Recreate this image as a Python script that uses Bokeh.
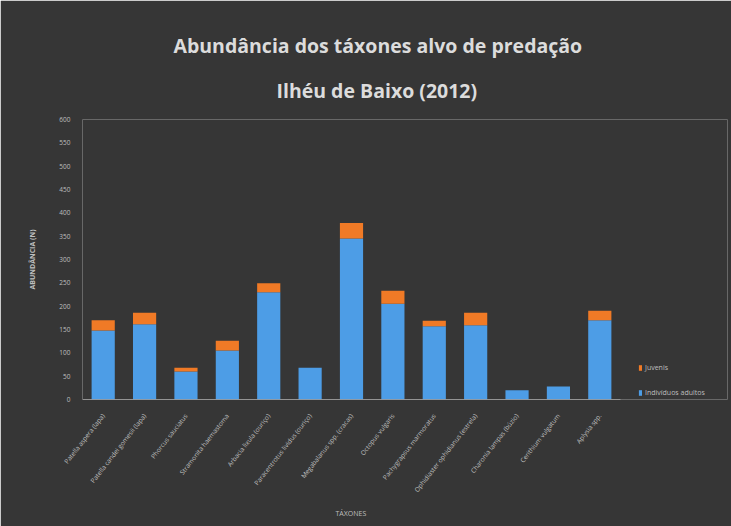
import math
from bokeh.plotting import figure
from bokeh.models import (ColumnDataSource, Range1d, Legend, LegendItem,
                          Title, FixedTicker)
from bokeh.embed import file_html
from bokeh.resources import INLINE

# ---------------- data ----------------
taxa = [
    "Patella aspera (lapa)",
    "Patella candei gomesii (lapa)",
    "Phorcus sauciatus",
    "Stramonita haemastoma",
    "Arbacia lixula (ouriço)",
    "Paracentrotus lividus (ouriço)",
    "Megabalanus spp. (cracas)",
    "Octopus vulgaris",
    "Pachygrapsus marmoratus",
    "Ophidiaster ophidianus (estrela)",
    "Charonia lampas (búzio)",
    "Cerithium vulgatum",
    "Aplysia spp.",
]
adultos = [148, 161, 60, 105, 230, 68, 345, 205, 157, 159, 20, 28, 170]
juvenis = [22, 25, 8, 21, 19, 0, 33, 28, 12, 27, 0, 0, 20]
y_ticks = [0, 50, 100, 150, 200, 250, 300, 350, 400, 450, 500, 550, 600]

series_names = ["Indivíduos adultos", "Juvenis"]
title_lines = ["Abundância dos táxones alvo de predação", "Ilhéu de Baixo (2012)"]
x_title = "TÁXONES"
y_title = "ABUNDÂNCIA (N)"

BG = "#363636"
BLUE = "#4d9de6"
ORANGE = "#f07a26"
TXT = "#bfbfbf"

# layout (pixels)
W, H = 731, 526
LEFT, RIGHT, TOP, BOTTOM = 82, 4, 119, 127
BAR_AREA_W = 538            # width used by the category slots

n = len(taxa)
xs = list(range(n))
frame_w = W - LEFT - RIGHT
slot = BAR_AREA_W / n
x_end = -0.5 + frame_w / slot

source = ColumnDataSource(dict(x=xs, taxa=taxa, adultos=adultos, juvenis=juvenis))

p = figure(
    x_range=Range1d(-0.5, x_end),
    y_range=Range1d(y_ticks[0], y_ticks[-1]),
    width=W, height=H,
    output_backend="svg", toolbar_location=None,
    min_border_left=LEFT, min_border_right=RIGHT, min_border_top=TOP, min_border_bottom=BOTTOM,
    background_fill_color=BG, border_fill_color=BG, outline_line_color=None,
)

r_ad, r_ju = p.vbar_stack(["adultos", "juvenis"], x="x", width=0.56, source=source,
                          color=[BLUE, ORANGE], line_color=None)

# category axis baseline spanning only the category slots
p.segment(x0=[-0.5], x1=[n - 0.5], y0=[y_ticks[0]], y1=[y_ticks[0]],
          line_color="#bfbfbf", line_width=1)

# titles (left-aligned with offsets so they are centred over the bar area)
t2 = Title(text=title_lines[1], align="left", offset=194, text_font="Open Sans",
           text_font_size="19.5px", text_font_style="bold", text_color="#dcdcdc",
           standoff=32)
t1 = Title(text=title_lines[0], align="left", offset=91, text_font="Open Sans",
           text_font_size="19.5px", text_font_style="bold", text_color="#dcdcdc",
           standoff=0)
p.title = None
p.add_layout(t2, "above")
p.add_layout(t1, "above")

# axes
p.xgrid.grid_line_color = None
p.ygrid.grid_line_color = None

xa = p.xaxis[0]
xa.ticker = FixedTicker(ticks=xs)
xa.major_label_overrides = {i: t for i, t in zip(xs, taxa)}
xa.axis_line_color = None
xa.major_tick_line_color = None
xa.minor_tick_line_color = None
xa.major_label_orientation = math.radians(52)
xa.major_label_text_font = "Open Sans"
xa.major_label_text_font_size = "6.5px"
xa.major_label_text_color = TXT
xa.major_label_standoff = 9

# x-axis title centred under the bar area
xt = Title(text=x_title, align="left", offset=BAR_AREA_W / 2 - 16, text_font="Open Sans",
           text_font_size="7px", text_font_style="normal", text_color=TXT,
           standoff=15)
p.add_layout(xt, "below")

ya = p.yaxis[0]
ya.ticker = FixedTicker(ticks=y_ticks)
ya.axis_line_color = None
ya.major_tick_line_color = None
ya.minor_tick_line_color = None
ya.major_label_text_font = "Open Sans"
ya.major_label_text_font_size = "6.5px"
ya.major_label_text_color = TXT
ya.major_label_standoff = 6
ya.axis_label = y_title
ya.axis_label_text_font = "Open Sans"
ya.axis_label_text_font_size = "7px"
ya.axis_label_text_font_style = "bold"
ya.axis_label_text_color = TXT
ya.axis_label_standoff = 19

legend = Legend(
    items=[LegendItem(label=series_names[1], renderers=[r_ju]),
           LegendItem(label=series_names[0], renderers=[r_ad])],
    location=(BAR_AREA_W + 18, 2),
    background_fill_alpha=0, border_line_color=None,
    label_text_font="Open Sans", label_text_font_size="7px", label_text_color=TXT,
    glyph_width=4, glyph_height=7, spacing=16, padding=0, margin=0,
    label_standoff=3,
)
p.add_layout(legend, "center")

open("out.html", "w").write(file_html(p, INLINE))
